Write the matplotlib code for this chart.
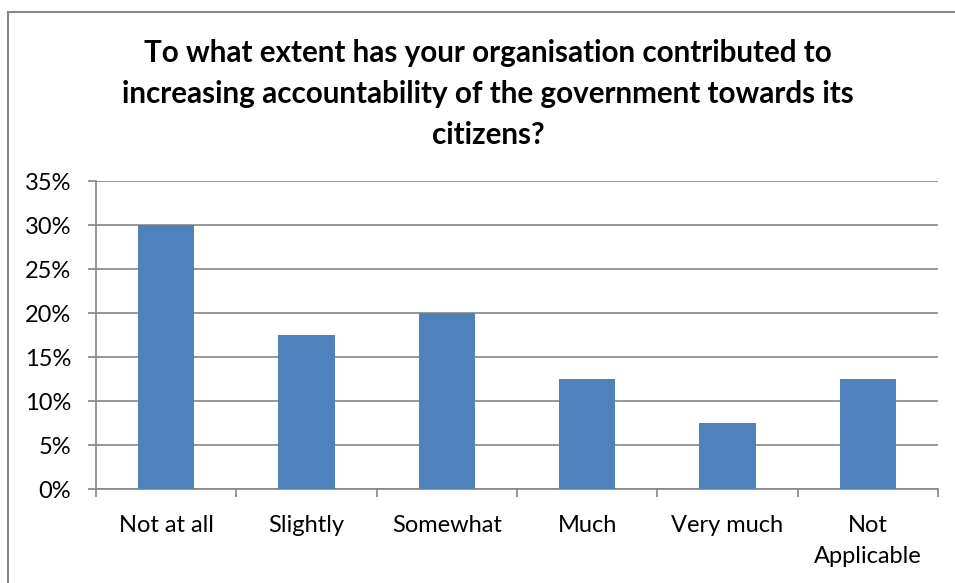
import matplotlib.pyplot as plt
from matplotlib.patches import Rectangle
from matplotlib.ticker import FixedLocator, NullFormatter

categorias = ['Not at all', 'Slightly', 'Somewhat', 'Much', 'Very much', 'Not\nApplicable']
percentuais = [30, 17.5, 20, 12.5, 7.5, 12.5]
ticks_y = [0, 5, 10, 15, 20, 25, 30, 35]
rotulos_y = ['0%', '5%', '10%', '15%', '20%', '25%', '30%', '35%']

titulo = ('To what extent has your organisation contributed to\n'
          'increasing accountability of the government towards its\n'
          'citizens?')

COR_BARRA = '#4F81BD'
COR_LINHA = '#868686'

plt.rcParams['font.family'] = ['Lato', 'DejaVu Sans']

fig = plt.figure(figsize=(9.55, 5.83), dpi=100)
fig.patch.set_facecolor('white')

# moldura do gráfico (só esquerda e topo aparecem)
fig.patches.append(Rectangle((8 / 955, -0.1), 1.2, (583 - 12) / 583 + 0.1,
                             transform=fig.transFigure, fill=False,
                             edgecolor=COR_LINHA, linewidth=1.5))

ax = fig.add_axes([96 / 955, 1 - 489 / 583, (938 - 96) / 955, (489 - 181) / 583])

posicoes = range(len(categorias))
ax.bar(posicoes, percentuais, width=0.4, color=COR_BARRA, zorder=3)

ax.set_xlim(-0.5, len(categorias) - 0.5)
ax.set_ylim(0, 35)
ax.set_yticks(ticks_y)
ax.set_yticklabels(rotulos_y, fontsize=17)
ax.set_xticks(list(posicoes))
ax.set_xticklabels(categorias, fontsize=17, linespacing=1.55)
ax.tick_params(axis='x', length=0, pad=19)
ax.tick_params(axis='y', length=6, color=COR_LINHA, width=1.2, pad=12)

# ticks entre as categorias no eixo x
ax.xaxis.set_minor_locator(FixedLocator([i - 0.5 for i in range(len(categorias) + 1)]))
ax.xaxis.set_minor_formatter(NullFormatter())
ax.tick_params(axis='x', which='minor', length=6, color=COR_LINHA, width=1.2)

ax.grid(True, axis='y', color=COR_LINHA, linewidth=1.2, zorder=0)
for lado in ['top', 'right']:
    ax.spines[lado].set_visible(False)
for lado in ['left', 'bottom']:
    ax.spines[lado].set_color(COR_LINHA)
    ax.spines[lado].set_linewidth(1.2)

fig.text(488 / 955, 1 - 39 / 583, titulo, ha='center', va='top',
         fontsize=21.3, fontweight='bold', linespacing=1.57)

plt.savefig('out.png', dpi=100, facecolor=fig.get_facecolor())
